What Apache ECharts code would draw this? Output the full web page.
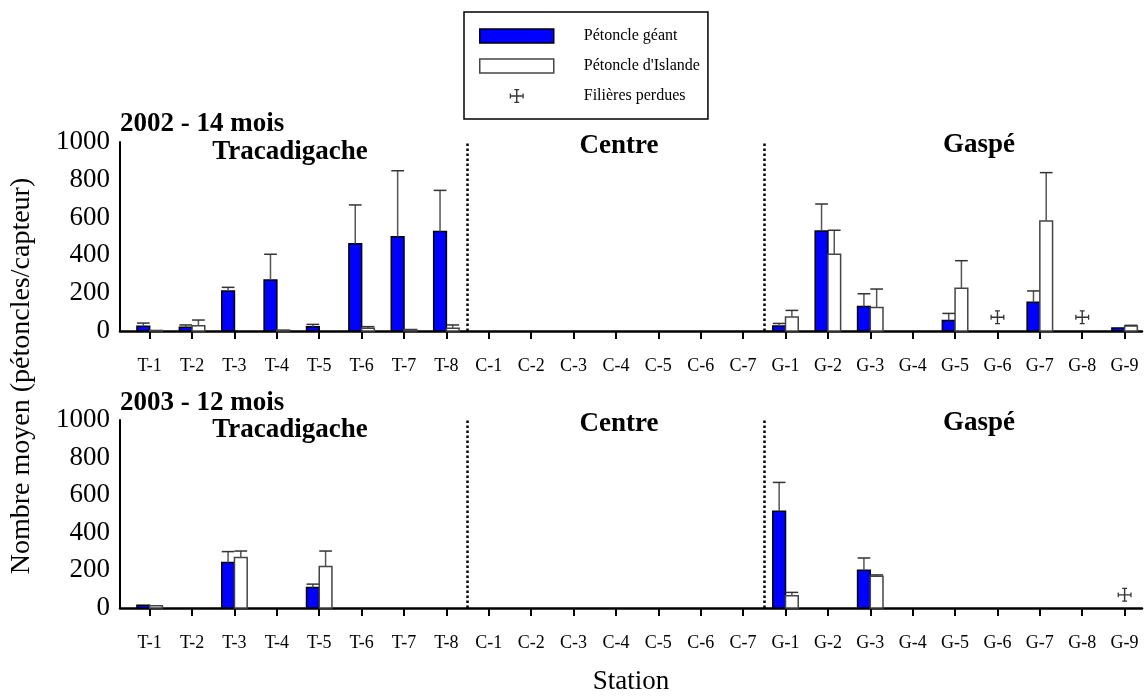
<!DOCTYPE html>
<html>

<head>
    <meta charset="utf-8">
    <title>Pétoncles par station</title>
    <script src="https://cdn.jsdelivr.net/npm/echarts@6/dist/echarts.min.js"></script>
    <style>
        body { margin: 0; background: #fff; }
    </style>
</head>

<body>
    <div id="main" style="width: 1144px;height:696px;"></div>
    <script type="text/javascript">
        // stations (axe des x)
        var stations = ['T-1', 'T-2', 'T-3', 'T-4', 'T-5', 'T-6', 'T-7', 'T-8',
            'C-1', 'C-2', 'C-3', 'C-4', 'C-5', 'C-6', 'C-7',
            'G-1', 'G-2', 'G-3', 'G-4', 'G-5', 'G-6', 'G-7', 'G-8', 'G-9'];
        var yTicks = [0, 200, 400, 600, 800, 1000];

        // 2002 - 14 mois
        var geant2002 = [25, 20, 211, 270, 23, 462, 499, 526, null, null, null, null, null, null, null,
            26, 529, 129, null, 56, null, 152, null, 16];
        var geantErr2002 = [42, 32, 231, 406, 35, 667, 848, 744, null, null, null, null, null, null, null,
            40, 672, 197, null, 93, null, 212, null, null];
        var islande2002 = [3, 28, null, 5, null, 14, 8, 14, null, null, null, null, null, null, null,
            74, 406, 125, null, 226, null, 582, null, 26];
        var islandeErr2002 = [null, 58, null, null, null, 23, null, 32, null, null, null, null, null, null, null,
            109, 533, 222, null, 372, null, 838, null, 30];
        var perdues2002 = ['G-6', 'G-8'];
        var perduesY2002 = [73, 73];

        // 2003 - 12 mois
        var geant2003 = [15, null, 242, null, 109, null, null, null, null, null, null, null, null, null, null,
            515, null, 201, null, null, null, null, null, null];
        var geantErr2003 = [null, null, 300, null, 127, null, null, null, null, null, null, null, null, null, null,
            668, null, 266, null, null, null, null, null, null];
        var islande2003 = [12, null, 268, null, 221, null, null, null, null, null, null, null, null, null, null,
            65, null, 169, null, null, null, null, null, null];
        var islandeErr2003 = [null, null, 303, null, 303, null, null, null, null, null, null, null, null, null, null,
            83, null, 176, null, null, null, null, null, null];
        var perdues2003 = ['G-9'];
        var perduesY2003 = [70];

        var FONT = "'Liberation Serif', 'Times New Roman', serif";
        var BAR_W = 0.3;
        var CROSS = 'path://M0,9L20,9L20,11L0,11Z M9,0L11,0L11,20L9,20Z M0,6.5L1.8,6.5L1.8,13.5L0,13.5Z M18.2,6.5L20,6.5L20,13.5L18.2,13.5Z M6.5,0L13.5,0L13.5,1.8L6.5,1.8Z M6.5,18.2L13.5,18.2L13.5,20L6.5,20Z';

        function toData(vals, errs) {
            var out = [];
            vals.forEach(function (v, i) {
                if (v != null) out.push([i, v, errs[i] == null ? -1 : errs[i]]);
            });
            return out;
        }

        function barRenderer(side, fill, stroke) {
            return function (params, api) {
                var x = api.value(0), v = api.value(1), e = api.value(2);
                var base = api.coord([x, 0]);
                var top = api.coord([x, v]);
                var w = api.size([BAR_W, 0])[0];
                var x0 = side < 0 ? base[0] - w : base[0];
                var kids = [{
                    type: 'rect',
                    shape: { x: x0, y: top[1], width: w, height: base[1] - top[1] },
                    style: { fill: fill, stroke: stroke, lineWidth: 1.5 }
                }];
                if (e > v) {
                    var et = api.coord([x, e]);
                    var cx = x0 + w / 2;
                    kids.push({
                        type: 'line',
                        shape: { x1: cx, y1: top[1], x2: cx, y2: et[1] },
                        style: { stroke: '#555', lineWidth: 1.5 }
                    });
                    kids.push({
                        type: 'line',
                        shape: { x1: x0, y1: et[1], x2: x0 + w, y2: et[1] },
                        style: { stroke: '#333', lineWidth: 1.5 }
                    });
                }
                return { type: 'group', children: kids };
            };
        }

        function lostData(names, ys) {
            return names.map(function (n, i) { return [stations.indexOf(n), ys[i]]; });
        }

        var idx = stations.map(function (s, i) { return i; });

        function xAxisCfg(gi, withName) {
            var ax = {
                type: 'value', gridIndex: gi, min: -0.7, max: 23.41,
                axisLine: { onZero: false, lineStyle: { color: '#000', width: 2.5 } },
                axisTick: { customValues: idx, length: 8, lineStyle: { color: '#000', width: 2 } },
                axisLabel: {
                    customValues: idx, margin: 26, color: '#000', fontFamily: FONT, fontSize: 18,
                    formatter: function (v) { return stations[Math.round(v)]; }
                },
                splitLine: { show: false }
            };
            if (withName) {
                ax.name = 'Station';
                ax.nameLocation = 'middle';
                ax.nameGap = 60;
                ax.nameTextStyle = { color: '#000', fontFamily: FONT, fontSize: 27 };
            }
            return ax;
        }

        function yAxisCfg(gi) {
            return {
                type: 'value', gridIndex: gi, min: yTicks[0], max: yTicks[yTicks.length - 1], interval: 200,
                axisLine: { show: true, onZero: false, lineStyle: { color: '#000', width: 2 } },
                axisTick: { show: false },
                axisLabel: {
                    margin: 10, color: '#000', fontFamily: FONT, fontSize: 27,
                    formatter: function (v) { return String(v); }
                },
                splitLine: { show: false }
            };
        }

        var dividers = {
            silent: true, symbol: 'none', label: { show: false },
            lineStyle: { type: 'dotted', color: '#000', width: 2.5 },
            data: [{ xAxis: 7.5 }, { xAxis: 14.5 }]
        };

        var panels = [
            { g: geant2002, ge: geantErr2002, i: islande2002, ie: islandeErr2002, p: perdues2002, py: perduesY2002 },
            { g: geant2003, ge: geantErr2003, i: islande2003, ie: islandeErr2003, p: perdues2003, py: perduesY2003 }
        ];

        var series = [];
        panels.forEach(function (pn, k) {
            series.push({
                name: 'Pétoncle géant', type: 'custom', xAxisIndex: k, yAxisIndex: k,
                itemStyle: { color: '#0000ff' },
                renderItem: barRenderer(-1, '#0000ff', '#000'),
                data: toData(pn.g, pn.ge)
            });
            series.push({
                name: "Pétoncle d'Islande", type: 'custom', xAxisIndex: k, yAxisIndex: k,
                itemStyle: { color: '#fff' },
                renderItem: barRenderer(1, '#fff', '#444'),
                data: toData(pn.i, pn.ie)
            });
            series.push({
                name: 'Filières perdues', type: 'scatter', xAxisIndex: k, yAxisIndex: k,
                symbol: CROSS, symbolSize: 14, itemStyle: { color: '#000' },
                data: lostData(pn.p, pn.py),
                markLine: dividers
            });
        });

        function label(text, x, y, size, align) {
            return {
                type: 'text', x: x, y: y, silent: true,
                style: {
                    text: text, fill: '#000', font: 'bold ' + size + 'px ' + FONT,
                    align: align || 'center', verticalAlign: 'middle'
                }
            };
        }

        var graphics = [
            label('2002 - 14 mois', 120, 124, 27, 'left'),
            label('2003 - 12 mois', 120, 403, 27, 'left'),
            label('Tracadigache', 290, 152, 27),
            label('Centre', 619, 146, 27),
            label('Gaspé', 979, 145, 27),
            label('Tracadigache', 290, 430, 27),
            label('Centre', 619, 424, 27),
            label('Gaspé', 979, 423, 27),
            {
                type: 'text', x: 22, y: 376, rotation: Math.PI / 2, silent: true,
                style: {
                    text: 'Nombre moyen (pétoncles/capteur)', fill: '#000', font: '28px ' + FONT,
                    align: 'center', verticalAlign: 'middle'
                }
            }
        ];

        var myChart = echarts.init(document.getElementById('main'));
        var option = {
            animation: false,
            backgroundColor: '#fff',
            legend: {
                orient: 'vertical', left: 464, top: 12,
                padding: [14, 8, 13, 15],
                itemWidth: 74, itemHeight: 14, itemGap: 10,
                borderColor: '#000', borderWidth: 1.5,
                selectedMode: false,
                textStyle: { color: '#000', fontFamily: FONT, fontSize: 16, lineHeight: 20, padding: [0, 0, 0, 25] },
                data: [
                    { name: 'Pétoncle géant', icon: 'rect', itemStyle: { color: '#0000ff', borderColor: '#000', borderWidth: 1.5 } },
                    { name: "Pétoncle d'Islande", icon: 'rect', itemStyle: { color: '#fff', borderColor: '#444', borderWidth: 1.5 } },
                    { name: 'Filières perdues', icon: CROSS, itemStyle: { color: '#000', borderWidth: 0 } }
                ]
            },
            grid: [
                { left: 120, right: 2, top: 142, height: 189 },
                { left: 120, right: 2, top: 420, height: 189 }
            ],
            xAxis: [xAxisCfg(0, false), xAxisCfg(1, true)],
            yAxis: [yAxisCfg(0), yAxisCfg(1)],
            graphic: graphics,
            series: series
        };
        myChart.setOption(option);
    </script>
</body>

</html>
